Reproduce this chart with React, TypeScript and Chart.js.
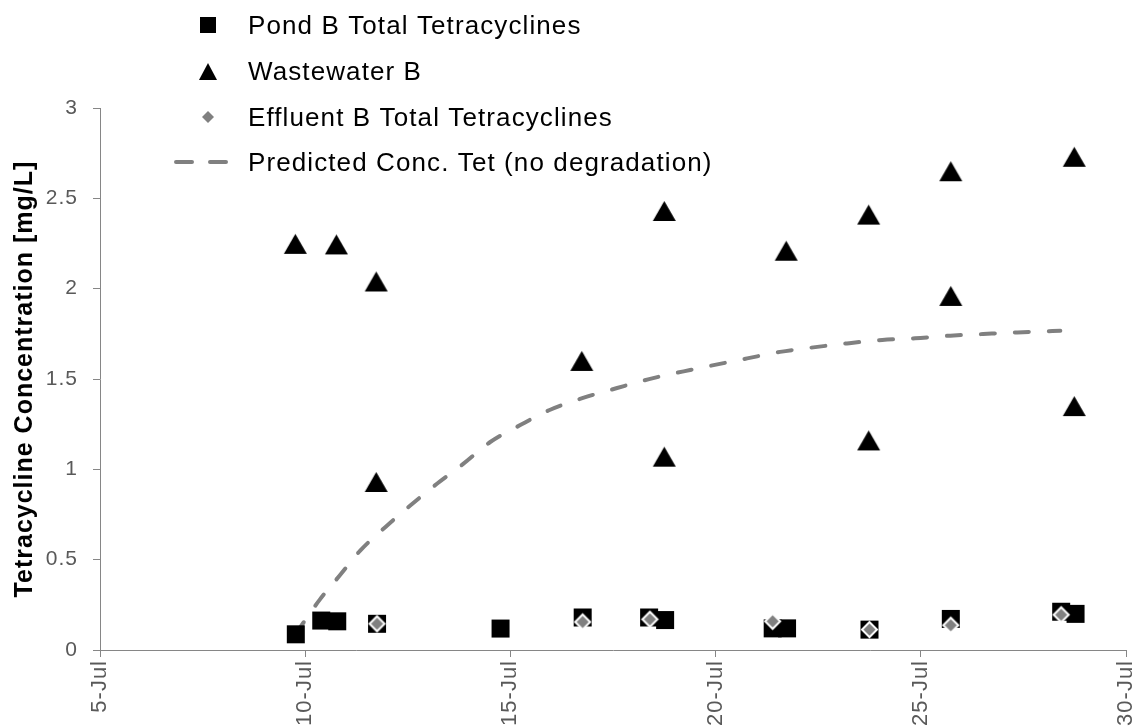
import React, { useEffect, useRef } from 'react';
import { Chart, registerables } from 'chart.js';

Chart.register(...registerables);

// ---- Axis definitions ----
const X_MIN = 5;
const X_MAX = 30;
const X_STEP = 5;
const MONTH = 'Jul';
const Y_MIN = 0;
const Y_MAX = 3;
const Y_STEP = 0.5;
const Y_TITLE = 'Tetracycline Concentration [mg/L]';

// ---- Series labels ----
const pondLabel = 'Pond B Total Tetracyclines';
const wasteLabel = 'Wastewater B';
const effluentLabel = 'Effluent B Total Tetracyclines';
const predictedLabel = 'Predicted Conc. Tet (no degradation)';

// ---- Data (x = day of July) ----
const pondDays = [9.77, 10.39, 10.78, 11.75, 14.76, 16.76, 18.38, 18.77, 21.39, 21.74, 23.75, 25.73, 28.42, 28.77];
const pondConc = [0.087, 0.163, 0.159, 0.145, 0.119, 0.18, 0.18, 0.166, 0.12, 0.12, 0.113, 0.172, 0.212, 0.2];

const wasteDays = [9.76, 10.76, 11.73, 11.73, 16.74, 18.75, 18.75, 21.72, 23.73, 23.73, 25.73, 25.73, 28.74, 28.74];
const wasteConc = [2.248, 2.245, 2.04, 0.93, 1.6, 2.43, 1.07, 2.21, 2.41, 1.16, 2.65, 1.96, 2.73, 1.35];

const effluentDays = [11.75, 16.76, 18.4, 21.39, 23.75, 25.73, 28.42];
const effluentConc = [0.145, 0.155, 0.17, 0.159, 0.113, 0.137, 0.195];

const predictedDays = [9.77, 10.36, 10.85, 11.34, 11.95, 12.56, 13.21, 13.85, 14.5, 15.24, 15.97, 16.77, 17.6, 18.48, 19.38, 20.77, 21.57, 22.38, 23.2, 24.06, 24.86, 25.72, 26.52, 27.35, 28.4];
const predictedConc = [0.09, 0.28, 0.415, 0.55, 0.68, 0.8, 0.92, 1.03, 1.15, 1.245, 1.33, 1.395, 1.45, 1.505, 1.55, 1.614, 1.65, 1.675, 1.697, 1.716, 1.725, 1.74, 1.749, 1.758, 1.767];

const toPoints = (xs: number[], ys: number[]) => xs.map((x, i) => ({ x, y: ys[i] }));

const FONT = "'Liberation Sans', Arial, Helvetica, sans-serif";
const GRAY = '#808080';
const AXIS = '#868686';
const TICK_COLOR = '#595959';

type Kind = 'square' | 'triangle' | 'diamond';

function makeMarker(kind: Kind, w: number, h: number, fill: string, stroke?: string, strokeW = 0): HTMLCanvasElement {
  const pad = Math.ceil(strokeW) + 1;
  const c = document.createElement('canvas');
  c.width = Math.ceil(w + pad * 2);
  c.height = Math.ceil(h + pad * 2);
  const ctx = c.getContext('2d') as CanvasRenderingContext2D;
  const cx = c.width / 2;
  const cy = c.height / 2;
  ctx.beginPath();
  if (kind === 'square') {
    ctx.rect(cx - w / 2, cy - h / 2, w, h);
  } else if (kind === 'triangle') {
    ctx.moveTo(cx, cy - h / 2);
    ctx.lineTo(cx + w / 2, cy + h / 2);
    ctx.lineTo(cx - w / 2, cy + h / 2);
  } else {
    ctx.moveTo(cx, cy - h / 2);
    ctx.lineTo(cx + w / 2, cy);
    ctx.lineTo(cx, cy + h / 2);
    ctx.lineTo(cx - w / 2, cy);
  }
  ctx.closePath();
  ctx.fillStyle = fill;
  ctx.fill();
  if (stroke && strokeW > 0) {
    ctx.lineWidth = strokeW;
    ctx.strokeStyle = stroke;
    ctx.lineJoin = 'miter';
    ctx.stroke();
  }
  return c;
}

export default function App() {
  const canvasRef = useRef<HTMLCanvasElement | null>(null);

  useEffect(() => {
    const canvas = canvasRef.current;
    if (!canvas) return;

    const squareMk = makeMarker('square', 18, 18, '#000000');
    const triMk = makeMarker('triangle', 23, 20, '#000000');
    const diaMk = makeMarker('diamond', 15, 15, GRAY, '#ffffff', 2);

    const legSquare = makeMarker('square', 16, 16, '#000000');
    const legTri = makeMarker('triangle', 18, 17, '#000000');
    const legDia = makeMarker('diamond', 12, 12, GRAY);

    const legendMarkers: (HTMLCanvasElement | 'dash')[] = [legSquare, legTri, legDia, 'dash'];

    const textSpacing = {
      id: 'textSpacing',
      beforeDraw(chart: any) {
        (chart.ctx as any).letterSpacing = '1px';
      },
    };

    const floatingLegend = {
      id: 'floatingLegend',
      afterDraw(chart: any) {
        const ctx: CanvasRenderingContext2D = chart.ctx;
        const markerX = 208;
        const textX = 248;
        const rowY = [25, 71, 117, 162];
        ctx.save();
        (ctx as any).letterSpacing = '1.1px';
        ctx.font = `26px ${FONT}`;
        ctx.fillStyle = '#000000';
        ctx.textAlign = 'left';
        ctx.textBaseline = 'alphabetic';
        chart.data.datasets.forEach((ds: any, i: number) => {
          const y = rowY[i];
          const m = legendMarkers[i];
          if (m === 'dash') {
            ctx.save();
            ctx.strokeStyle = GRAY;
            ctx.lineWidth = 4;
            ctx.lineCap = 'round';
            ctx.beginPath();
            ctx.moveTo(176, y);
            ctx.lineTo(192, y);
            ctx.moveTo(210, y);
            ctx.lineTo(226, y);
            ctx.stroke();
            ctx.restore();
          } else {
            ctx.drawImage(m, Math.round(markerX - m.width / 2), Math.round(y - m.height / 2));
          }
          ctx.fillText(ds.label, textX, y + 9);
        });
        ctx.restore();
      },
    };

    const chart = new Chart(canvas, {
      type: 'scatter',
      data: {
        datasets: [
          {
            label: pondLabel,
            data: toPoints(pondDays, pondConc),
            pointStyle: squareMk as any,
            pointRadius: 10,
            showLine: false,
            order: 2,
          },
          {
            label: wasteLabel,
            data: toPoints(wasteDays, wasteConc),
            pointStyle: triMk as any,
            pointRadius: 12,
            showLine: false,
            order: 1,
          },
          {
            label: effluentLabel,
            data: toPoints(effluentDays, effluentConc),
            pointStyle: diaMk as any,
            pointRadius: 9,
            showLine: false,
            order: 0,
          },
          {
            type: 'line',
            label: predictedLabel,
            data: toPoints(predictedDays, predictedConc),
            showLine: true,
            pointRadius: 0,
            borderColor: GRAY,
            borderWidth: 4,
            borderDash: [14, 20],
            borderCapStyle: 'round',
            cubicInterpolationMode: 'monotone',
            fill: false,
            order: 3,
          } as any,
        ],
      },
      options: {
        responsive: false,
        animation: false,
        devicePixelRatio: 1,
        layout: { padding: { top: 108, left: 0, right: 13, bottom: 0 } },
        plugins: {
          legend: { display: false },
          tooltip: { enabled: false },
        },
        scales: {
          x: {
            type: 'linear',
            min: X_MIN,
            max: X_MAX,
            afterFit: (scale: any) => {
              scale.height = 77;
              scale.paddingLeft = 0;
              scale.paddingRight = 0;
            },
            ticks: {
              stepSize: X_STEP,
              minRotation: 90,
              maxRotation: 90,
              padding: 3,
              color: TICK_COLOR,
              font: { family: FONT, size: 22 },
              callback: (v: any) => `${v}-${MONTH}`,
            },
            grid: {
              display: true,
              drawOnChartArea: false,
              drawTicks: true,
              tickLength: 7,
              color: AXIS,
            },
            border: { display: true, color: AXIS, width: 1 },
          },
          y: {
            type: 'linear',
            min: Y_MIN,
            max: Y_MAX,
            afterFit: (scale: any) => {
              scale.width = 100;
            },
            ticks: {
              stepSize: Y_STEP,
              padding: 15,
              color: TICK_COLOR,
              font: { family: FONT, size: 21 },
              callback: (v: any) => `${Number(v)}`,
            },
            grid: {
              display: true,
              drawOnChartArea: false,
              drawTicks: true,
              tickLength: 7,
              color: AXIS,
            },
            border: { display: true, color: AXIS, width: 1 },
            title: {
              display: true,
              text: Y_TITLE,
              color: '#000000',
              font: { family: FONT, size: 25, weight: 'bold' },
              padding: { top: 10, bottom: 0 },
            },
          },
        },
      },
      plugins: [textSpacing, floatingLegend],
    });

    return () => {
      chart.destroy();
    };
  }, []);

  return (
    <div style={{ position: 'absolute', left: 0, top: 0, width: 1139, height: 727, background: '#ffffff' }}>
      <canvas ref={canvasRef} width={1139} height={727} style={{ display: 'block', width: 1139, height: 727 }} />
    </div>
  );
}
